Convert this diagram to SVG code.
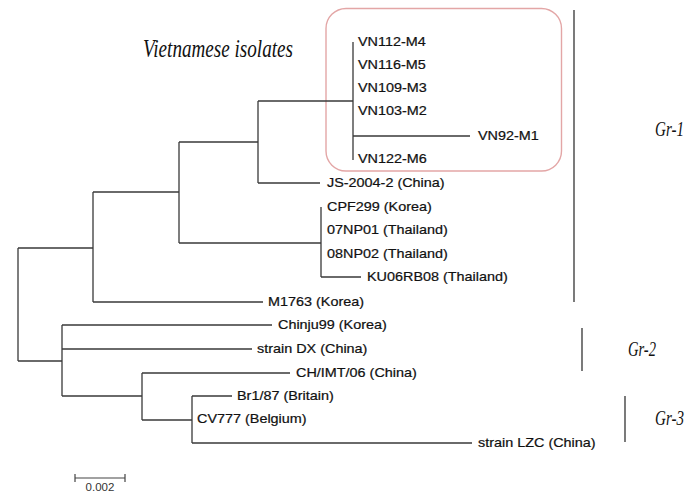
<svg xmlns="http://www.w3.org/2000/svg" width="698" height="493" viewBox="0 0 698 493">
<style>
.br{fill:none;stroke:#3a3a3a;stroke-width:1.3}
.lb{font-family:"Liberation Sans",Arial,sans-serif;font-size:12px;fill:#111;stroke:#111;stroke-width:0.2}
.it{font-family:"Liberation Serif","Times New Roman",serif;font-style:italic;fill:#111}
.gl{stroke:#222;stroke-width:1.2}
</style>
<rect width="698" height="493" fill="#fff"/>
<g id="highlight">
<rect x="326" y="8.5" width="235.5" height="162.5" rx="20" ry="20" fill="none" stroke="#e3a6a6" stroke-width="1.4"/>
</g>
<g id="title">
<text class="it" x="143" y="56.5" font-size="26" textLength="150" lengthAdjust="spacingAndGlyphs">Vietnamese isolates</text>
</g>
<g id="connectors">
<path class="br" d="M18 248V361M18 248H93M18 361H62"/>
<path class="br" d="M93 192V302M93 192H179M93 302H263"/>
<path class="br" d="M179 142V243M179 142H258M179 243H321"/>
<path class="br" d="M258 101V183M258 101H353M258 183H320"/>
<path class="br" d="M353 42V160M353 136H470"/>
<path class="br" d="M321 207V277M321 277H361"/>
<path class="br" d="M62 325V396M62 325H272M62 349H252M62 396H142"/>
<path class="br" d="M142 373V420M142 373H290M142 420H192"/>
<path class="br" d="M192 396V443M192 396H232M192 443H472"/>
</g>
<g id="leaves">
<text class="lb" transform="translate(358,46) scale(1.2,1)">VN112-M4</text>
<text class="lb" transform="translate(358,69) scale(1.2,1)">VN116-M5</text>
<text class="lb" transform="translate(358,92) scale(1.2,1)">VN109-M3</text>
<text class="lb" transform="translate(358,115) scale(1.2,1)">VN103-M2</text>
<text class="lb" transform="translate(478,140) scale(1.2,1)">VN92-M1</text>
<text class="lb" transform="translate(358,163) scale(1.2,1)">VN122-M6</text>
<text class="lb" transform="translate(327,187) scale(1.2,1)">JS-2004-2 (China)</text>
<text class="lb" transform="translate(327,211) scale(1.2,1)">CPF299 (Korea)</text>
<text class="lb" transform="translate(327,234) scale(1.2,1)">07NP01 (Thailand)</text>
<text class="lb" transform="translate(327,258) scale(1.2,1)">08NP02 (Thailand)</text>
<text class="lb" transform="translate(367,281) scale(1.2,1)">KU06RB08 (Thailand)</text>
<text class="lb" transform="translate(268,306) scale(1.2,1)">M1763 (Korea)</text>
<text class="lb" transform="translate(278,329) scale(1.2,1)">Chinju99 (Korea)</text>
<text class="lb" transform="translate(257,353) scale(1.2,1)">strain DX (China)</text>
<text class="lb" transform="translate(296,377) scale(1.2,1)">CH/IMT/06 (China)</text>
<text class="lb" transform="translate(237,400) scale(1.2,1)">Br1/87 (Britain)</text>
<text class="lb" transform="translate(197,423) scale(1.2,1)">CV777 (Belgium)</text>
<text class="lb" transform="translate(478,447) scale(1.2,1)">strain LZC (China)</text>
</g>
<g id="groups">
<line class="gl" x1="574" y1="10" x2="574" y2="302"/>
<text class="it" x="655" y="136" font-size="20" textLength="29" lengthAdjust="spacingAndGlyphs">Gr-1</text>
<line class="gl" x1="582" y1="328" x2="582" y2="371"/>
<text class="it" x="628" y="356" font-size="20" textLength="28" lengthAdjust="spacingAndGlyphs">Gr-2</text>
<line class="gl" x1="625" y1="396" x2="625" y2="442"/>
<text class="it" x="655" y="425" font-size="20" textLength="29" lengthAdjust="spacingAndGlyphs">Gr-3</text>
</g>
<g id="scale">
<path d="M75 478H125M75 474V482M125 474V482" fill="none" stroke="#444" stroke-width="1.2"/>
<text x="100" y="491" text-anchor="middle" font-family="Liberation Sans,Arial,sans-serif" font-size="11.5" fill="#333">0.002</text>
</g>
</svg>
